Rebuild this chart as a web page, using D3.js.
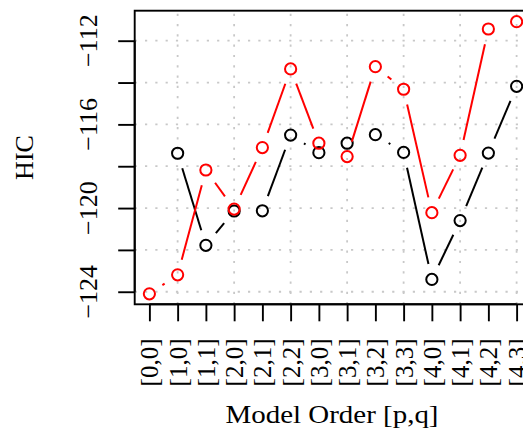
<!DOCTYPE html>
<html><head><meta charset="utf-8">
<script src="https://cdn.jsdelivr.net/npm/d3@7"></script>
<style>body{margin:0;background:#fff}svg{display:block}</style>
</head><body>
<svg id="c" width="523" height="436"></svg>
<script>
const categories = ["[0,0]","[1,0]","[1,1]","[2,0]","[2,1]","[2,2]","[3,0]","[3,1]","[3,2]","[3,3]","[4,0]","[4,1]","[4,2]","[4,3]"];
const blackSeries = [null,-117.38,-121.78,-120.14,-120.13,-116.51,-117.35,-116.90,-116.49,-117.34,-123.41,-120.60,-117.37,-114.18];
const redSeries   = [-124.10,-123.19,-118.18,-120.05,-117.11,-113.35,-116.90,-117.54,-113.24,-114.32,-120.22,-117.48,-111.44,-111.09];
const yTicks = [-124,-122,-120,-118,-116,-114,-112];
const yLabels = [-124,-120,-116,-112];
const gridX = [2,4,6,8,10,12,14];

const svg = d3.select("#c");
const L = 134.7, R = 531.3, T = 10.7, B = 304.3;
const x = d3.scaleLinear().domain([0.48, 14.52]).range([L, R]);
const y = d3.scaleLinear().domain([-124.60, -110.566]).range([B, T]);
const font = "'Liberation Serif', 'DejaVu Serif', serif";

// grid
const g = svg.append("g").attr("stroke", "#c8c8c8").attr("stroke-width", 1.8).attr("stroke-dasharray", "2.2,8.1");
g.selectAll(".gy").data(yTicks).join("line").attr("x1", L).attr("x2", R).attr("y1", d => y(d)).attr("y2", d => y(d));
g.selectAll(".gx").data(gridX).join("line").attr("y1", B).attr("y2", T).attr("x1", d => x(d)).attr("x2", d => x(d));

// series
function drawSeries(vals, color) {
  const pts = vals.map((v, i) => v == null ? null : [x(i + 1), y(v)]);
  const gap = 15.7;
  const segs = [];
  for (let i = 0; i < pts.length - 1; i++) {
    const a = pts[i], b = pts[i + 1];
    if (!a || !b) continue;
    const dx = b[0] - a[0], dy = b[1] - a[1], len = Math.hypot(dx, dy);
    if (len <= 2 * gap) continue;
    const ux = dx / len, uy = dy / len;
    segs.push([a[0] + ux * gap, a[1] + uy * gap, b[0] - ux * gap, b[1] - uy * gap]);
  }
  svg.append("g").selectAll("line").data(segs).join("line")
    .attr("x1", d => d[0]).attr("y1", d => d[1]).attr("x2", d => d[2]).attr("y2", d => d[3])
    .attr("stroke", color).attr("stroke-width", 2);
  svg.append("g").selectAll("circle").data(pts.filter(p => p)).join("circle")
    .attr("cx", d => d[0]).attr("cy", d => d[1]).attr("r", 5.6)
    .attr("fill", "none").attr("stroke", color).attr("stroke-width", 2);
}
drawSeries(blackSeries, "#000");
drawSeries(redSeries, "#ff0000");

// box
svg.append("rect").attr("x", L).attr("y", T).attr("width", R - L).attr("height", B - T)
  .attr("fill", "none").attr("stroke", "#000").attr("stroke-width", 1.9);

// y axis
const yAxis = d3.axisLeft(y).tickValues(yTicks).tickSize(16.5).tickFormat("");
const ya = svg.append("g").attr("transform", `translate(${L},0)`).call(yAxis);
ya.select(".domain").attr("d", `M0,${y(-124)}V${y(-112)}`).attr("stroke-width", 1.9);
ya.selectAll(".tick line").attr("stroke-width", 1.9);
svg.append("g").selectAll("text").data(yLabels).join("text")
  .attr("transform", d => `translate(97,${y(d)}) rotate(-90)`)
  .attr("text-anchor", "middle").attr("font-family", font).attr("font-size", 26)
  .text(d => "\u2212" + Math.abs(d));

// x axis
const xAxis = d3.axisBottom(x).tickValues(d3.range(1, categories.length + 1)).tickSize(17).tickFormat("");
const xa = svg.append("g").attr("transform", `translate(0,${B})`).call(xAxis);
xa.select(".domain").attr("d", `M${x(1)},0H${x(categories.length)}`).attr("stroke-width", 1.9);
xa.selectAll(".tick line").attr("stroke-width", 1.9);
svg.append("g").selectAll("text").data(categories).join("text")
  .attr("transform", (d, i) => `translate(${x(i + 1) + 9},338.5) rotate(-90)`)
  .attr("text-anchor", "end").attr("font-family", font).attr("font-size", 25)
  .text(d => d);

// titles
svg.append("text").attr("x", (L + R) / 2 - 1).attr("y", 423).attr("text-anchor", "middle")
  .attr("font-family", font).attr("font-size", 26).attr("textLength", 213).attr("lengthAdjust", "spacingAndGlyphs")
  .text("Model Order [p,q]");
svg.append("text").attr("transform", `translate(33,${(T + B) / 2}) rotate(-90)`).attr("text-anchor", "middle")
  .attr("font-family", font).attr("font-size", 26).text("HIC");
</script>
</body></html>
